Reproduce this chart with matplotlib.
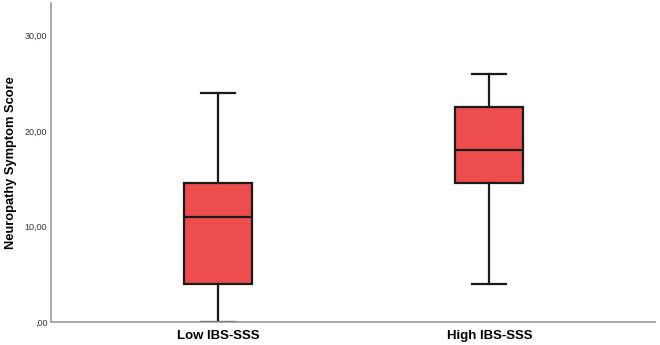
import matplotlib
matplotlib.use('Agg')
import matplotlib.pyplot as plt

# 箱线图数据
groups = ['Low IBS-SSS', 'High IBS-SSS']
whislo = [0, 4]
q1 = [4, 14.5]
med = [11, 18]
q3 = [14.5, 22.5]
whishi = [24, 26]

plt.rcParams['font.family'] = ['Liberation Sans', 'DejaVu Sans']

fig = plt.figure(figsize=(6.6, 3.45), dpi=100)
ax = fig.add_axes([0.078, 0.067, 0.914, 0.924])

stats = []
for i in range(len(groups)):
    stats.append({'label': groups[i], 'whislo': whislo[i], 'q1': q1[i],
                  'med': med[i], 'q3': q3[i], 'whishi': whishi[i], 'fliers': []})

ax.bxp(stats, positions=[1, 2], widths=0.25, patch_artist=True, showfliers=False,
       boxprops=dict(facecolor='#ee4d4d', edgecolor='#1a1a1a', linewidth=1.6),
       medianprops=dict(color='#1a1a1a', linewidth=1.6),
       whiskerprops=dict(color='#1a1a1a', linewidth=1.6),
       capprops=dict(color='#1a1a1a', linewidth=1.6),
       capwidths=0.125)

ax.set_xlim(0.385, 2.61)
ax.set_ylim(0, 33.4)
ax.set_yticks([0, 10, 20, 30])
ax.set_yticklabels([',00', '10,00', '20,00', '30,00'], fontsize=6.5, color='#333333')
ax.set_xticks([1, 2])
ax.set_xticklabels(groups, fontsize=9.5, fontweight='bold')
ax.tick_params(axis='y', length=0, pad=3)
ax.tick_params(axis='x', length=0, pad=6)
ax.set_ylabel('Neuropathy Symptom Score', fontsize=9.3, fontweight='bold')
ax.yaxis.set_label_coords(-0.057, 0.5)

for s in ['top', 'right']:
    ax.spines[s].set_visible(False)
for s in ['left', 'bottom']:
    ax.spines[s].set_color('#999999')
    ax.spines[s].set_linewidth(1.2)

fig.savefig('out.png', dpi=100)
